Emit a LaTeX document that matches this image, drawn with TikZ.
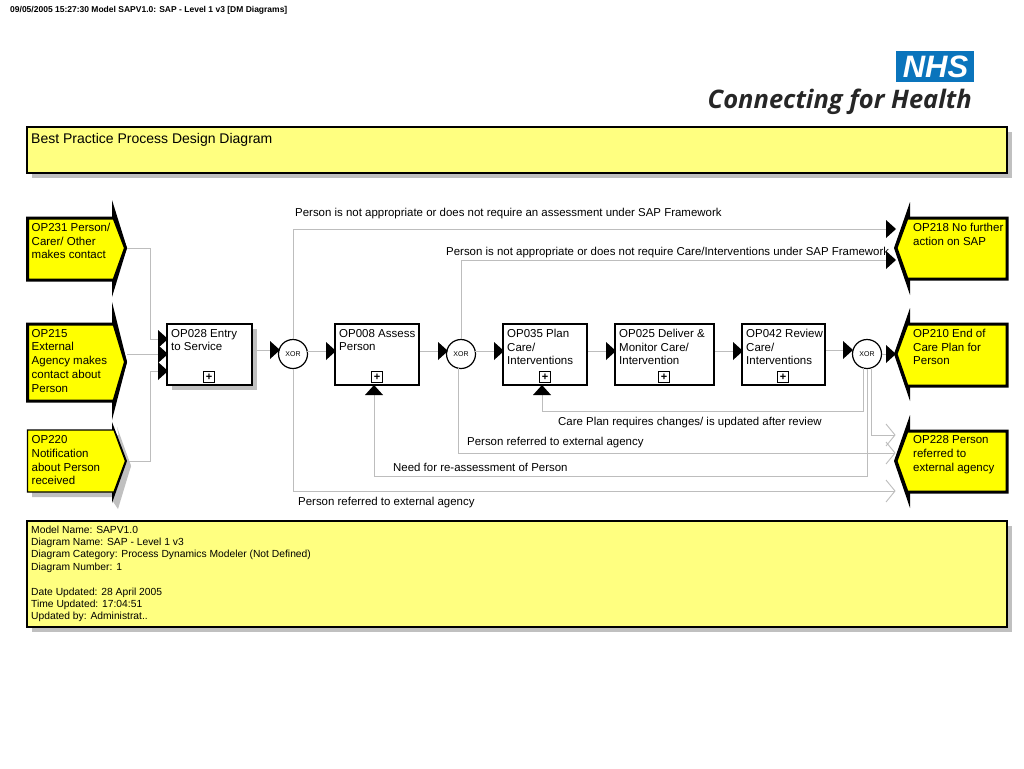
\documentclass[tikz,border=0pt]{standalone}
\usepackage{fontspec}
\setmainfont{Liberation Sans}
\newfontfamily\logofont[BoldItalicFont={Open Sans Bold Italic}]{Open Sans}
\definecolor{evyel}{HTML}{FFFF00}
\definecolor{paleyel}{HTML}{FFFF80}
\definecolor{shadowgrey}{HTML}{C0C0C0}
\definecolor{wire}{HTML}{BDBDBD}
\definecolor{nhsblue}{HTML}{0A74BC}
\tikzset{
  lbl/.style={inner sep=0pt,anchor=north west,align=left,font=\fontsize{11.5}{13.7}\selectfont},
  flowlbl/.style={inner sep=0pt,anchor=west,font=\fontsize{11.45}{14}\selectfont},
  wireline/.style={draw=wire,line width=0.9pt},
  openhead/.style={draw=wire,line width=0.9pt,fill=none},
  taskbox/.style={draw=black,line width=2pt,fill=white},
  gatec/.style={circle,draw=black,line width=1.2pt,fill=white,minimum size=29pt,inner sep=0pt,font=\fontsize{7}{8}\selectfont},
  plusbox/.style={draw=black,line width=1pt,fill=white,minimum size=11pt,inner sep=0pt,font=\fontsize{11}{11}\bfseries\selectfont},
  info/.style={draw=black,line width=1.1pt,fill=paleyel},
}
\newcommand\evleft[7]{%
  \fill[black] (112,#4) -- (127,#3) -- (112,#5) -- (112,#2) -- (122,#3) -- (112,#1) -- cycle;
  \path[fill=evyel,draw=black,line width=#6] (27.5,#1) -- (114,#1) -- (125.5,#3) -- (114,#2) -- (27.5,#2) -- cycle;
  \coordinate (#7) at (127,#3);
}
\newcommand\evright[7]{%
  \fill[black] (910,#4) -- (894,#3) -- (910,#5) -- (910,#2) -- (899,#3) -- (910,#1) -- cycle;
  \path[fill=evyel,draw=black,line width=#6] (1007,#1) -- (907,#1) -- (896,#3) -- (907,#2) -- (1007,#2) -- cycle;
  \coordinate (#7) at (894,#3);
}
\newcommand\rhead[2]{\fill[black] (#1,#2-9) -- (#1+10,#2) -- (#1,#2+9) -- cycle;}
\newcommand\uhead[1]{\fill[black] (#1-9,395) -- (#1,385) -- (#1+9,395) -- cycle;}
\newcommand\ohead[2]{\draw[openhead] (886,#2-11) -- (#1,#2) -- (886,#2+11);}
\newcommand\task[6]{%
  \path[taskbox] (#2,324) rectangle (#3,385);
  \node[lbl] (#1) at (#2+4,329) {#5};
  \node[plusbox] (#1p) at (#4,377) {+};
  \coordinate (#1L) at (#2,351);
  \coordinate (#1R) at (#3,351);
}
\begin{document}
\begin{tikzpicture}[x=1pt,y=-1pt]
\useasboundingbox (0,0) rectangle (1024,768);
\fill[white] (0,0) rectangle (1024,768);

\node[inner sep=0pt,anchor=west,font=\fontsize{8.5}{10}\bfseries\selectfont] (hdr) at (10,10) {09/05/2005 15:27:30 Model SAPV1.0: SAP - Level 1 v3 [DM Diagrams]};

% logo
\fill[nhsblue] (896,51) rectangle (974,82);
\node[inner sep=0pt,text=white,font=\fontsize{31}{31}\bfseries\itshape\selectfont] (nhs) at (935.5,66.5) {NHS};
\node[inner sep=0pt,anchor=east,text=black!85,font=\logofont\fontsize{25.5}{26}\bfseries\itshape\selectfont] (cfh) at (972,101.5) {Connecting for Health};

% title
\fill[shadowgrey] (32,132) rectangle (1012,178);
\path[info] (27,127) rectangle (1007,173);
\node[inner sep=0pt,anchor=west,font=\fontsize{14}{16}\selectfont] (title) at (31,139.5) {Best Practice Process Design Diagram};

% info
\fill[shadowgrey] (32,526) rectangle (1012,632);
\path[info] (27,521) rectangle (1007,627);
\node[lbl,font=\fontsize{10.3}{12.4}\selectfont] (meta) at (31,525.5) {Model Name: SAPV1.0\\Diagram Name: SAP - Level 1 v3\\Diagram Category: Process Dynamics Modeler (Not Defined)\\Diagram Number: 1\\[12.4pt]Date Updated: 28 April 2005\\Time Updated: 17:04:51\\Updated by: Administrat..};

% shadows
\fill[shadowgrey] (32,435) -- (119,435) -- (131,466) -- (119,497) -- (32,497) -- cycle;
\fill[shadowgrey] (117,427) -- (131,466) -- (118,509) -- (112,500) -- (124,461) -- cycle;
\fill[shadowgrey] (172,329) rectangle (257,390);

% events
\evleft{218}{280}{248}{200}{297}{3pt}{e231}
\evleft{324}{401}{362}{302}{420}{3pt}{e215}
\evleft{430}{492}{461}{422}{503}{1.3pt}{e220}
\evright{218}{279}{248}{202}{295}{3pt}{e218}
\evright{324}{386}{354}{308}{401}{3pt}{e210}
\evright{431}{492}{461}{415}{508}{3pt}{e228}
\node[lbl] (t231) at (31.5,223) {OP231 Person/\\Carer/ Other\\makes contact};
\node[lbl] (t215) at (31.5,329) {OP215\\External\\Agency makes\\contact about\\Person};
\node[lbl] (t220) at (31.5,435.5) {OP220\\Notification\\about Person\\received};
\node[lbl] (t218) at (913,223) {OP218 No further\\action on SAP};
\node[lbl] (t210) at (913,329) {OP210 End of\\Care Plan for\\Person};
\node[lbl] (t228) at (913,435.5) {OP228 Person\\referred to\\external agency};

% gates
\node[gatec] (x1) at (293,354) {XOR};
\node[gatec] (x2) at (461,354) {XOR};
\node[gatec] (x3) at (867,354) {XOR};

% ports
\coordinate (in1) at (158,339);
\coordinate (in2) at (158,354);
\coordinate (in3) at (158,371);
\coordinate (a218a) at (886,229);
\coordinate (a218b) at (886,260);
\coordinate (a210) at (886,354);
\coordinate (o1) at (895,435);
\coordinate (o2) at (895,453);
\coordinate (o3) at (895,491);
\coordinate (up8) at (374,395);
\coordinate (up35) at (542,395);
\coordinate (xout1) at (863,368);
\coordinate (xout2) at (867,369);
\coordinate (xout3) at (871,368);

% connectors
\draw[wireline] (e231) -- (150,248) |- (in1);
\draw[wireline] (e215 |- in2) -- (in2);
\draw[wireline] (e220) -- (150,461) |- (in3);
\draw[wireline] (252,350) -- (270,350);
\draw[wireline] (307,351) -- (326,351);
\draw[wireline] (419,351) -- (438,351);
\draw[wireline] (475,351) -- (494,351);
\draw[wireline] (587,351) -- (606,351);
\draw[wireline] (714,351) -- (733,351);
\draw[wireline] (825,350) -- (843,350);
\draw[wireline] (x3.east) -- (a210);
\draw[wireline] (x1.north) |- (a218a);
\draw[wireline] (x2.north) |- (a218b);
\draw[wireline] (x1.south) |- (o3);
\draw[wireline] (458,368) |- (o2);
\draw[wireline] (xout1) |- (542,411) -- (up35);
\draw[wireline] (xout2) |- (374,476) -- (up8);
\draw[wireline] (xout3) |- (o1);

% tasks
\task{t28}{167}{252}{209}{OP028 Entry\\to Service}{}
\task{t8}{335}{419}{377}{OP008 Assess\\Person}{}
\task{t35}{503}{587}{545}{OP035 Plan\\Care/\\Interventions}{}
\task{t25}{615}{714}{664}{OP025 Deliver \&\\Monitor Care/\\Intervention}{}
\task{t42}{742}{825}{783}{OP042 Review\\Care/\\Interventions}{}

% heads
\rhead{158}{339}\rhead{158}{354}\rhead{158}{371}
\rhead{270}{350}\rhead{326}{351}\rhead{438}{351}\rhead{494}{351}\rhead{606}{351}\rhead{733}{351}\rhead{843}{350}
\rhead{886}{354}\rhead{886}{229}\rhead{886}{260}
\uhead{374}\uhead{542}
\ohead{895}{435}\ohead{895}{453}\ohead{895}{491}

% flow labels
\node[flowlbl] (l1) at (295,213.5) {Person is not appropriate or does not require an assessment under SAP Framework};
\node[flowlbl] (l2) at (446,252.5) {Person is not appropriate or does not require Care/Interventions under SAP Framework};
\node[flowlbl] (l3) at (558,422.5) {Care Plan requires changes/ is updated after review};
\node[flowlbl] (l4) at (467,442.5) {Person referred to external agency};
\node[flowlbl] (l5) at (393,467.5) {Need for re-assessment of Person};
\node[flowlbl] (l6) at (298,502.5) {Person referred to external agency};
\end{tikzpicture}
\end{document}
